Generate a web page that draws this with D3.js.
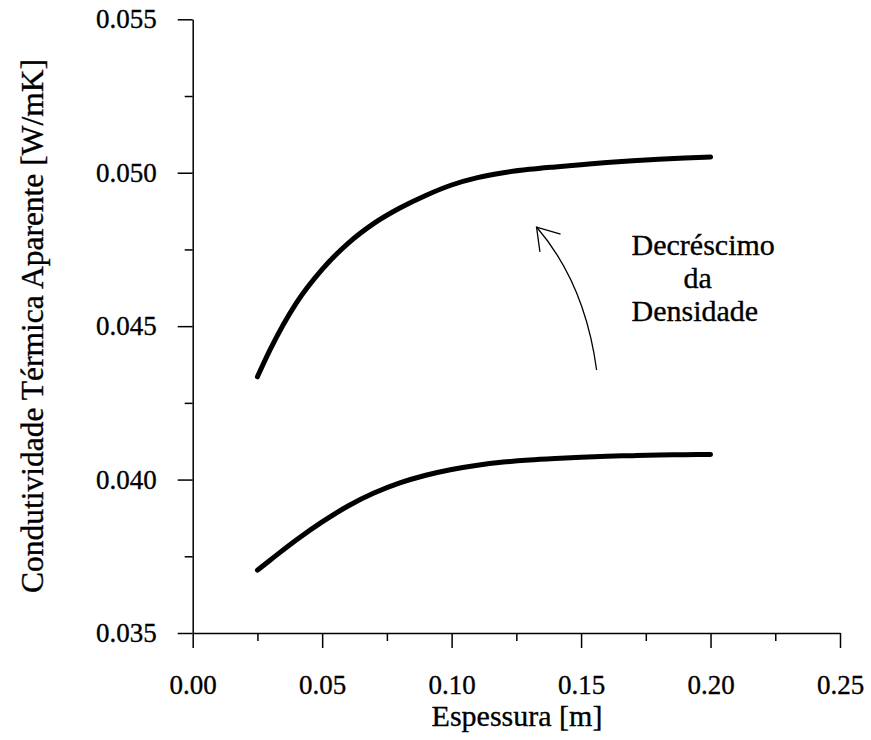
<!DOCTYPE html>
<html>
<head>
<meta charset="utf-8">
<script src="https://cdn.jsdelivr.net/npm/d3@7"></script>
<style>
  html, body { margin: 0; padding: 0; background: #fff; }
  svg { display: block; }
  text { font-family: "Liberation Serif", "Times New Roman", serif; fill: #000; stroke: #000; stroke-width: 0.35px; }
</style>
</head>
<body>
<svg id="chart" width="871" height="740"></svg>
<script>
// ---- data ----
const thickness = [0.025, 0.03, 0.04, 0.05, 0.06, 0.07, 0.08, 0.09, 0.10, 0.11, 0.12, 0.13, 0.14, 0.15, 0.16, 0.17, 0.18, 0.19, 0.20];
const lowDensity = [0.04335, 0.04425, 0.04575, 0.04685, 0.04770, 0.04835, 0.04885, 0.04926, 0.04960, 0.04984, 0.05000, 0.05011, 0.05019, 0.05026, 0.05033, 0.05039, 0.05044, 0.05048, 0.05051];
const highDensity = [0.03705, 0.03738, 0.03803, 0.03862, 0.03914, 0.03956, 0.03989, 0.04014, 0.04033, 0.04047, 0.04057, 0.04064, 0.04069, 0.04073, 0.04076, 0.04078, 0.04080, 0.04081, 0.04082];
const xMajorTicks = [0.00, 0.05, 0.10, 0.15, 0.20, 0.25];
const xMinorTicks = [0.025, 0.075, 0.125, 0.175, 0.225];
const yMajorTicks = [0.035, 0.040, 0.045, 0.050, 0.055];
const yMinorTicks = [0.0375, 0.0425, 0.0475, 0.0525];
const xTitle = "Espessura [m]";
const yTitle = "Condutividade Térmica Aparente [W/mK]";
const noteLines = ["Decréscimo", "da", "Densidade"];
// annotation arrow in data units: start, control, tip
const arrowStart = [0.1560, 0.04357];
const arrowCtrl = [0.1515, 0.04640];
const arrowTip = [0.1328, 0.04823];
const noteAnchor = [0.1695, 0.04731];

// ---- layout ----
const svg = d3.select("#chart");
const x = d3.scaleLinear().domain([0, 0.25]).range([192.7, 840]);
const y = d3.scaleLinear().domain([0.035, 0.055]).range([633, 19.3]);

const tickFont = 27;

// minor x ticks
svg.append("g")
  .attr("transform", `translate(0,${y(0.035)})`)
  .call(d3.axisBottom(x).tickValues(xMinorTicks).tickSize(8).tickFormat(""))
  .call(g => g.select(".domain").remove())
  .call(g => g.selectAll("line").attr("stroke", "#000").attr("stroke-width", 1.5));

// major x axis
svg.append("g")
  .attr("transform", `translate(0,${y(0.035)})`)
  .call(d3.axisBottom(x).tickValues(xMajorTicks).tickSize(15).tickSizeOuter(0).tickFormat(d3.format(".2f")))
  .call(g => g.select(".domain").attr("stroke", "#000").attr("stroke-width", 1.5))
  .call(g => g.selectAll("line").attr("stroke", "#000").attr("stroke-width", 1.5))
  .call(g => g.selectAll("text")
    .attr("y", 61).attr("dy", null)
    .attr("font-family", "Liberation Serif")
    .attr("font-size", tickFont).attr("fill", "#000"));

// minor y ticks
svg.append("g")
  .attr("transform", `translate(${x(0)},0)`)
  .call(d3.axisLeft(y).tickValues(yMinorTicks).tickSize(8).tickFormat(""))
  .call(g => g.select(".domain").remove())
  .call(g => g.selectAll("line").attr("stroke", "#000").attr("stroke-width", 1.5));

// major y axis
svg.append("g")
  .attr("transform", `translate(${x(0)},0)`)
  .call(d3.axisLeft(y).tickValues(yMajorTicks).tickSize(15).tickSizeOuter(0).tickFormat(d3.format(".3f")))
  .call(g => g.select(".domain").attr("stroke", "#000").attr("stroke-width", 1.5))
  .call(g => g.selectAll("line").attr("stroke", "#000").attr("stroke-width", 1.5))
  .call(g => g.selectAll("text")
    .attr("x", -36).attr("dy", "0.32em")
    .attr("font-family", "Liberation Serif")
    .attr("font-size", tickFont).attr("fill", "#000"));

// axis titles
svg.append("text")
  .attr("x", 517).attr("y", 726)
  .attr("text-anchor", "middle")
  .attr("font-size", 30)
  .text(xTitle);

svg.append("text")
  .attr("transform", "translate(43,326) rotate(-90)")
  .attr("text-anchor", "middle")
  .attr("font-size", 31.5)
  .text(yTitle);

// curves
const line = d3.line()
  .x((d, i) => x(thickness[i]))
  .y(d => y(d))
  .curve(d3.curveMonotoneX);

[lowDensity, highDensity].forEach(series => {
  svg.append("path")
    .datum(series)
    .attr("d", line)
    .attr("fill", "none")
    .attr("stroke", "#000")
    .attr("stroke-width", 5)
    .attr("stroke-linecap", "round")
    .attr("stroke-linejoin", "round");
});

// annotation arrow
const p0 = [x(arrowStart[0]), y(arrowStart[1])];
const pc = [x(arrowCtrl[0]), y(arrowCtrl[1])];
const pt = [x(arrowTip[0]), y(arrowTip[1])];
const ap = d3.path();
ap.moveTo(p0[0], p0[1]);
ap.quadraticCurveTo(pc[0], pc[1], pt[0], pt[1]);
svg.append("path")
  .attr("d", ap.toString())
  .attr("fill", "none")
  .attr("stroke", "#000")
  .attr("stroke-width", 1.3);

const back = Math.atan2(pc[1] - pt[1], pc[0] - pt[0]);
const headLen = 25, headAng = 33 * Math.PI / 180;
const hp = d3.path();
hp.moveTo(pt[0] + headLen * Math.cos(back - headAng), pt[1] + headLen * Math.sin(back - headAng));
hp.lineTo(pt[0], pt[1]);
hp.lineTo(pt[0] + headLen * Math.cos(back + headAng), pt[1] + headLen * Math.sin(back + headAng));
svg.append("path")
  .attr("d", hp.toString())
  .attr("fill", "none")
  .attr("stroke", "#000")
  .attr("stroke-width", 1.3);

// annotation text
const nx = x(noteAnchor[0]), ny = y(noteAnchor[1]);
const noteOffsets = [0, 52, 0];
noteLines.forEach((t, i) => {
  svg.append("text")
    .attr("x", nx + noteOffsets[i])
    .attr("y", ny + i * 33)
    .attr("font-size", 30)
    .text(t);
});
</script>
</body>
</html>
